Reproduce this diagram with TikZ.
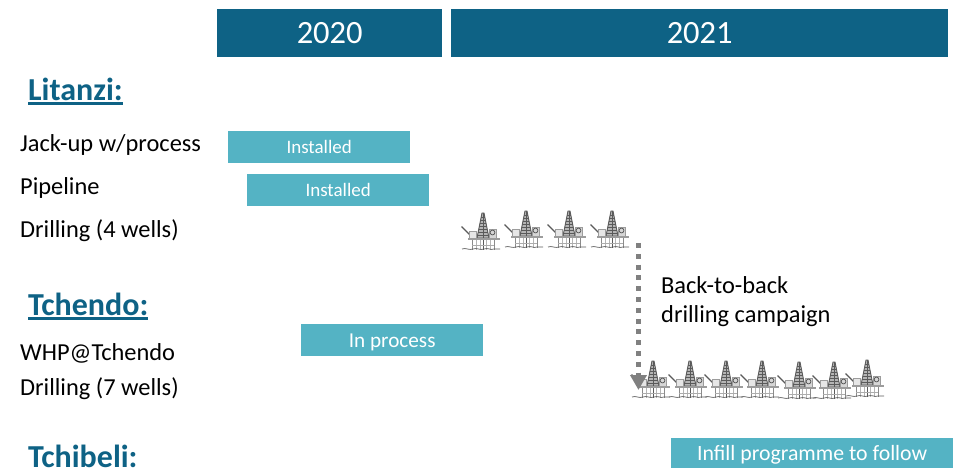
\documentclass[tikz,border=0pt]{standalone}
\usepackage{fontspec}
\setmainfont{Carlito}
\usetikzlibrary{arrows.meta,positioning}
\definecolor{yearblue}{HTML}{0E6285}
\definecolor{barteal}{HTML}{54B3C4}
\definecolor{rigrey}{HTML}{5A5A5A}
\newcommand{\fieldname}[1]{\vtop{\hbox{#1}\kern1.2pt\hrule height 2.4pt}}
\tikzset{
  year/.style={fill=yearblue,text=white,font=\fontsize{32.5}{32}\selectfont,inner sep=0pt,anchor=north west},
  bar/.style={fill=barteal,text=white,inner sep=0pt,anchor=north west,font=\fontsize{19}{19}\selectfont},
  field/.style={text=yearblue,font=\fontsize{32}{32}\selectfont\bfseries,inner sep=0pt,anchor=base west},
  item/.style={text=black,font=\fontsize{24.4}{26}\selectfont,inner sep=0pt,anchor=base west},
  rig/.pic={
    % the derrick
    \draw[rigrey,line width=.9pt,fill=rigrey!45] (-6,0) -- (-1,-25) -- (1,-25) -- (6,0) -- cycle;
    \foreach \h/\w in {-3/5.4,-6/4.8,-9/4.2,-12/3.6,-15/3,-18/2.4,-21/1.8}
      \draw[rigrey,line width=.8pt] (-\w,\h) -- (\w,\h);
    \draw[rigrey,line width=.8pt] (0,-25) -- (0,0);
    % crane and deck houses
    \draw[rigrey,line width=1.2pt] (-21.5,-11.5) -- (-13,-3);
    \draw[rigrey!60,line width=.9pt,fill=rigrey!15] (-14,0) -- (-14,-7) -- (-7,-7) -- (-7,0);
    \draw[rigrey!60,line width=.9pt,fill=rigrey!25] (6,0) rectangle (13,-9);
    \draw[rigrey,line width=.8pt] (9.5,-5.5) circle (2.4);
    % deck and legs
    \draw[rigrey!60,line width=2pt] (-15,1) -- (17,1);
    \foreach \x/\g in {-11/70,-7/45,-3/45,0/100,3/45,7/45,11/70}
      \draw[rigrey!\g,line width=1pt] (\x,2) -- (\x,12);
    \draw[rigrey!50,line width=.8pt] (-11,7) -- (11,7);
    % the sea
    \draw[rigrey,line width=.7pt] (-21,11) .. controls (-17,9.5) and (-14,12.5) .. (-10,11)
      .. controls (-6,9.5) and (-3,12.5) .. (1,11) .. controls (5,9.5) and (8,12.5) .. (11,11)
      .. controls (13,10) and (15,12) .. (17,11);
  }
}
\begin{document}
\begin{tikzpicture}[x=1pt,y=-1pt]
  \useasboundingbox (0,0) rectangle (953,470);

  % the years
  \node[year,minimum width=225pt,minimum height=48pt] (y2020) at (217,9) {2020};
  \node[year,minimum width=497pt,minimum height=48pt] (y2021) at (451,9) {2021};

  % the fields and their items
  \node[field] (litanzi) at (28,101) {\fieldname{Litanzi:}};
  \node[item] (jackup) at (20,152) {Jack-up w/process};
  \node[item] (pipeline) at (20,195) {Pipeline};
  \node[item] (drillfour) at (20,238) {Drilling (4 wells)};

  \node[field] (tchendo) at (28,316) {\fieldname{Tchendo:}};
  \node[item] (whp) at (20,360) {WHP@Tchendo};
  \node[item] (drillseven) at (20,395) {Drilling (7 wells)};

  \node[field] (tchibeli) at (28,467) {Tchibeli:};

  % the bars
  \node[bar,minimum width=182pt,minimum height=32pt] (jackbar) at (228,131) {Installed};
  \node[bar,minimum width=182pt,minimum height=32pt] (pipebar) at (247,174) {Installed};
  \node[bar,minimum width=182pt,minimum height=32pt,font=\fontsize{21.2}{21}\selectfont] (whpbar) at (301,324) {\raisebox{-2pt}[\height][\depth]{In process}};
  \node[bar,minimum width=282pt,minimum height=30pt,font=\fontsize{21.8}{21}\selectfont] (infillbar) at (671,438) {\raisebox{-2pt}[\height][\depth]{Infill programme to follow}};

  % the rigs
  \foreach \x/\y in {483/238,526/236,569/236,612/236}
    \pic at (\x,\y) {rig};
  \foreach \x/\y in {653/386,690/386,726/386,762/386,799/387,834/387,867/385}
    \pic at (\x,\y) {rig};

  % the campaign
  \coordinate (campstart) at (638.5,243);
  \coordinate (campend) at (638.5,390);
  \draw[gray,line width=5pt,dash pattern=on 5pt off 5.8pt,-{Triangle[length=15pt,width=16pt]}] (campstart) -- (campend);
  \node[item] (campaign) at (661,294) {Back-to-back};
  \node[item] (campaigntwo) at (661,323) {drilling campaign};

\end{tikzpicture}
\end{document}
